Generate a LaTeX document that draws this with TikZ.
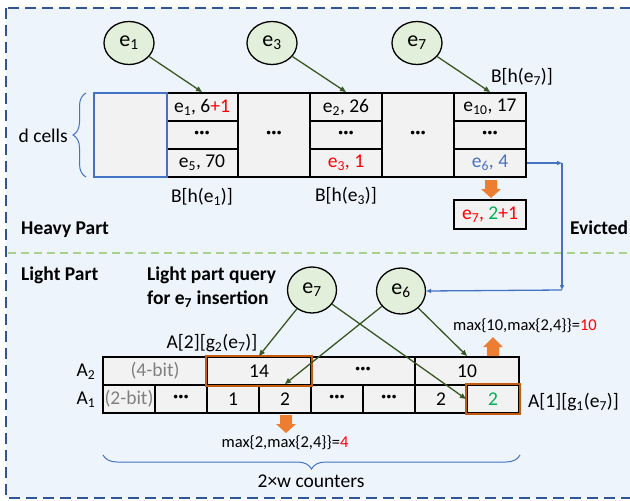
\documentclass[tikz,border=0pt]{standalone}
\usepackage{fontspec}
\setmainfont{Carlito}
\usetikzlibrary{arrows.meta,decorations.pathreplacing,shapes.geometric}
\definecolor{framebg}{HTML}{EEF4FB}
\definecolor{framedash}{HTML}{2F5597}
\definecolor{sepgreen}{HTML}{A9D18E}
\definecolor{circfill}{HTML}{E2EFDA}
\definecolor{cellgray}{HTML}{F2F2F2}
\definecolor{myblue}{HTML}{4472C4}
\definecolor{arrowgreen}{HTML}{385723}
\definecolor{orangeA}{HTML}{ED7D31}
\definecolor{orangeB}{HTML}{C55A11}
\definecolor{myred}{HTML}{FF0000}
\definecolor{mygreen}{HTML}{00B050}
\definecolor{txtgray}{HTML}{808080}
\begin{document}
\begin{tikzpicture}[x=1pt,y=-1pt,
  every node/.style={font=\fontsize{19.5}{23}\selectfont, inner sep=0pt},
  cellbox/.style={draw=black, line width=2pt, fill=cellgray, minimum width=72pt, minimum height=28pt},
  tallbox/.style={cellbox, minimum height=84pt},
  lcell/.style={draw=black, line width=2pt, fill=cellgray, minimum width=52pt, minimum height=28pt},
  wcell/.style={lcell, minimum width=104pt},
  elem/.style={ellipse, draw=black, line width=1.3pt, fill=circfill, minimum width=50pt, minimum height=43pt, font=\fontsize{22}{24}\selectfont},
  garrow/.style={draw=arrowgreen, line width=1.3pt, -{Triangle[length=6pt,width=5pt]}},
  barrow/.style={draw=myblue, line width=1.3pt, -{Triangle[length=5pt,width=4pt]}},
  bracestyle/.style={draw=myblue, line width=1pt, decorate},
  smalltxt/.style={font=\fontsize{16.5}{19}\selectfont},
  boldtxt/.style={font=\fontsize{19.5}{24}\selectfont\bfseries},
  orangebox/.style={draw=orangeB, line width=2pt},
  dots/.style={font=\fontsize{19.5}{23}\selectfont\bfseries}
]
\useasboundingbox (0,0) rectangle (630,501);
% frame
\draw[framedash, line width=2.2pt, dash pattern=on 11pt off 6pt, fill=framebg] (6,8) rectangle (636,498);
\draw[sepgreen, line width=2pt, dash pattern=on 8pt off 5pt] (8,253) -- (632,253);

% ---------- heavy part ----------
\node[cellbox] (c1a) at (202,107) {e\textsubscript{1}, 6{\color{myred}+1}};
\node[cellbox] (c1b) at (202,135) {\textbf{···}};
\node[cellbox] (c1c) at (202,163) {e\textsubscript{5}, 70};
\node[tallbox] (c2) at (274,135) {\textbf{···}};
\node[cellbox] (c3a) at (346,107) {e\textsubscript{2}, 26};
\node[cellbox] (c3b) at (346,135) {\textbf{···}};
\node[cellbox] (c3c) at (346,163) {\color{myred}e\textsubscript{3}, 1};
\node[tallbox] (c4) at (418,135) {\textbf{···}};
\node[cellbox] (c5a) at (490,107) {e\textsubscript{10}, 17};
\node[cellbox] (c5b) at (490,135) {\textbf{···}};
\node[cellbox] (c5c) at (490,163) {\color{myblue}e\textsubscript{6}, 4};
\node[tallbox, draw=myblue, minimum width=73pt] (c0) at (130.5,135) {};

\node[cellbox, minimum height=29pt] (newe7) at (490,214.5) {{\color{myred}e\textsubscript{7}, }{\color{mygreen}2}{\color{myred}+1}};
\fill[orangeA] (485,180) -- (497,180) -- (497,189) -- (501,189) -- (491,198) -- (481,189) -- (485,189) -- cycle;

\node[elem] (h1) at (129,43) {e\textsubscript{1}};
\node[elem] (h3) at (272,43) {e\textsubscript{3}};
\node[elem] (h7) at (417,43) {e\textsubscript{7}};
\draw[garrow] (h1) -- (c1a.north);
\draw[garrow] (h3) -- (c3a.north);
\draw[garrow] (h7) -- (c5a.north);

\node (lb1) at (202,197) {B[h(e\textsubscript{1})]};
\node (lb3) at (346,196) {B[h(e\textsubscript{3})]};
\node (lb7) at (522,77) {B[h(e\textsubscript{7})]};

\draw[bracestyle, decoration={brace, amplitude=13pt}] (86,177) -- (86,93);
\node[anchor=east] (dcells) at (68,136) {d cells};

\node[boldtxt, anchor=west] (heavy) at (21,230) {Heavy Part};
\node[boldtxt, anchor=west] (evicted) at (570,228) {Evicted};

% ---------- light part ----------
\node[boldtxt, anchor=west] (light) at (21,275) {Light Part};
\node[boldtxt, anchor=west, align=left] (query) at (147,287) {Light part query\\for e\textsubscript{7} insertion};

\node[wcell] (a2a) at (155,371) {\color{txtgray}(4-bit)};
\node[wcell] (a2b) at (259,371) {14};
\node[wcell] (a2c) at (363,371) {\textbf{···}};
\node[wcell] (a2d) at (467,371) {10};
\node[lcell] (a1a) at (129,399) {\color{txtgray}(2-bit)};
\node[lcell] (a1b) at (181,399) {\textbf{···}};
\node[lcell] (a1c) at (233,399) {1};
\node[lcell] (a1d) at (285,399) {2};
\node[lcell] (a1e) at (337,399) {\textbf{···}};
\node[lcell] (a1f) at (389,399) {\textbf{···}};
\node[lcell] (a1g) at (441,399) {2};
\node[lcell] (a1h) at (493,399) {\color{mygreen}2};
\draw[orangebox] (a2b.north west) rectangle (a2b.south east);
\draw[orangebox] (a1h.north west) rectangle (a1h.south east);

\node (lA2) at (86,372) {A\textsubscript{2}};
\node (lA1) at (86,400) {A\textsubscript{1}};
\node (lg2) at (212,343) {A[2][g\textsubscript{2}(e\textsubscript{7})]};
\node[anchor=west] (lg1) at (528,402) {A[1][g\textsubscript{1}(e\textsubscript{7})]};

\node[elem, minimum height=46pt, minimum width=49pt] (l7) at (312,290) {e\textsubscript{7}};
\node[elem, minimum height=46pt, minimum width=49pt] (l6) at (401,291) {e\textsubscript{6}};
\draw[garrow] (l7) -- (a2b.north);
\draw[garrow] (l7) -- (a1h.west);
\draw[garrow] (l6) -- (a1d.north);
\draw[garrow] (l6) -- (a2d.north);

% evicted route
\coordinate (ev1) at (562,163);
\coordinate (ev2) at (562,290);
\draw[barrow] (c5c.east) -- (ev1);
\draw[barrow] (ev1) -- (ev2);
\draw[barrow] (ev2) -- (l6.east);

% max labels and orange arrows
\node[smalltxt] (max1) at (525,326) {max\{10,max\{2,4\}\}={\color{myred}10}};
\fill[orangeA] (487,356) -- (499,356) -- (499,347) -- (503,347) -- (493,337) -- (483,347) -- (487,347) -- cycle;
\node[smalltxt] (max2) at (285,443) {max\{2,max\{2,4\}\}={\color{myred}4}};
\fill[orangeA] (280,415) -- (292,415) -- (292,424) -- (296,424) -- (286,433) -- (276,424) -- (280,424) -- cycle;

\draw[bracestyle, decoration={brace, amplitude=14pt}] (520,455) -- (103,455);
\node (cnt) at (311,481) {2×w counters};
\end{tikzpicture}
\end{document}
